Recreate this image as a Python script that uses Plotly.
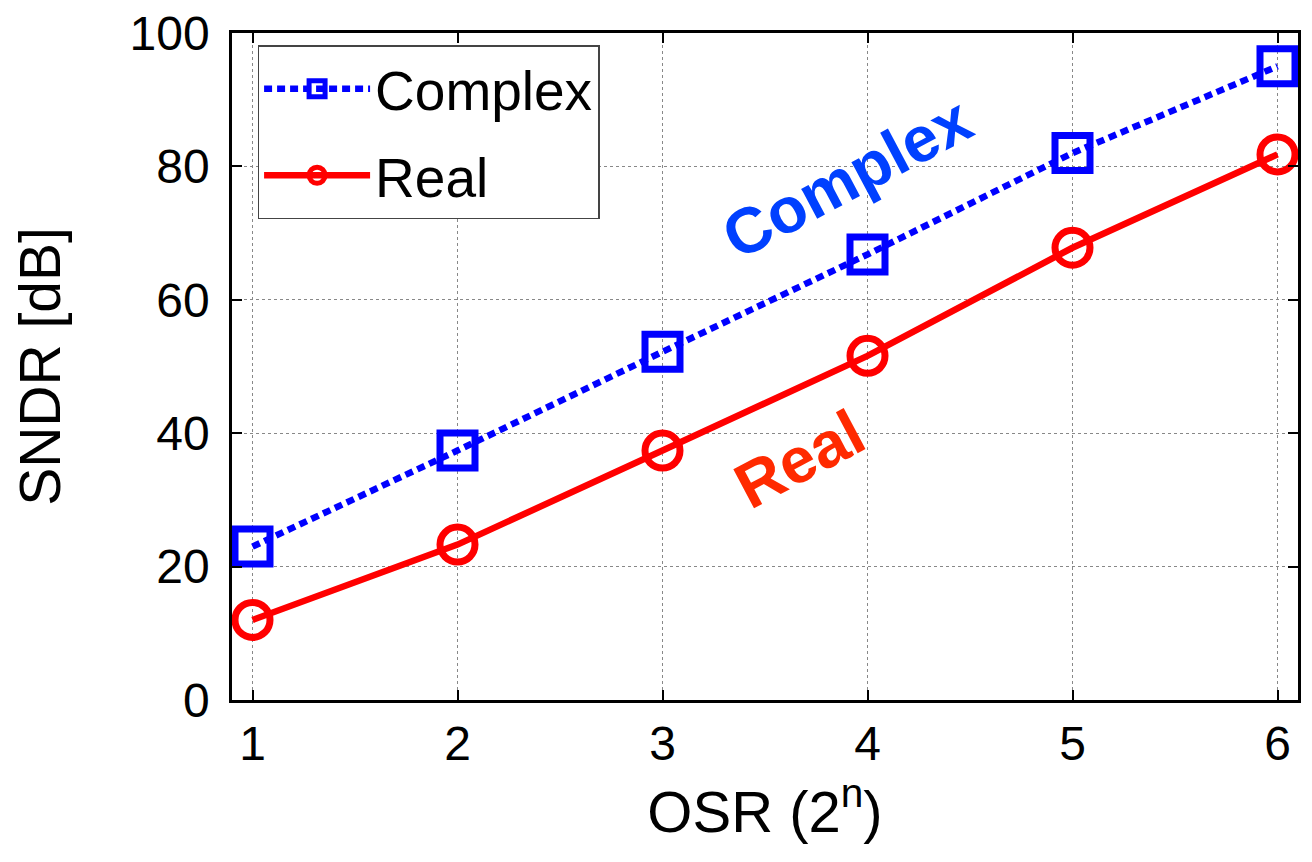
import plotly.graph_objects as go

osr_n = [1, 2, 3, 4, 5, 6]
complex_sndr = [23.0, 37.4, 52.2, 66.8, 82.0, 95.0]
real_sndr = [12.0, 23.3, 37.4, 51.6, 67.8, 81.8]
x_ticks = [1, 2, 3, 4, 5, 6]
y_ticks = [0, 20, 40, 60, 80, 100]

FONT = "Liberation Sans, Arial, Helvetica, sans-serif"

fig = go.Figure()
fig.add_trace(go.Scatter(
    x=osr_n, y=complex_sndr, name="Complex", mode="lines+markers",
    legendgroup="a",
    line=dict(color="#0000ff", width=6.5, dash="8px,5px"),
    marker=dict(symbol="square-open", size=35, color="#0000ff",
                line=dict(color="#0000ff", width=7)),
))
fig.add_trace(go.Scatter(
    x=osr_n, y=real_sndr, name="Real", mode="lines+markers",
    legendgroup="b",
    line=dict(color="#ff0000", width=6.5),
    marker=dict(symbol="circle-open", size=35, color="#ff0000",
                line=dict(color="#ff0000", width=7)),
))

fig.add_annotation(x=3.90, y=78.2, text="<b>Complex</b>", showarrow=False,
                   textangle=-28, font=dict(size=64, color="#0040ff", family=FONT))
fig.add_annotation(x=3.67, y=36.1, text="<b>Real</b>", showarrow=False,
                   textangle=-28, font=dict(size=64, color="#ff2a00", family=FONT))

axis_common = dict(
    showline=True, linecolor="black", linewidth=2.5, mirror="ticks",
    ticks="inside", ticklen=10, tickwidth=1.5, tickcolor="black",
    showgrid=True, gridcolor="#888888", gridwidth=1, griddash="dot",
    zeroline=False, tickfont=dict(size=48, color="black", family=FONT),
    automargin=False, ticklabeloverflow="allow",
)

fig.update_xaxes(range=[0.9, 6.1], tickvals=x_ticks,
                 title=dict(text="OSR (2<sup>n</sup>)", font=dict(size=58, family=FONT, color="black"), standoff=14),
                 **axis_common)
fig.update_yaxes(range=[0, 100], tickvals=y_ticks, ticklabelstandoff=10,
                 title=dict(text="SNDR [dB]", font=dict(size=57, family=FONT, color="black"), standoff=70),
                 **axis_common)

fig.update_layout(
    width=1304, height=854,
    margin=dict(l=224, r=14, t=25, b=162, autoexpand=False),
    plot_bgcolor="white", paper_bgcolor="white",
    font=dict(family=FONT, color="black"),
    legend=dict(x=0.024, y=0.982, xanchor="left", yanchor="top",
                bgcolor="white", bordercolor="#444444", borderwidth=1.5,
                font=dict(size=55, family=FONT, color="black"),
                itemwidth=106, traceorder="grouped", tracegroupgap=12),
    showlegend=True,
)

fig.write_html("out.html")
